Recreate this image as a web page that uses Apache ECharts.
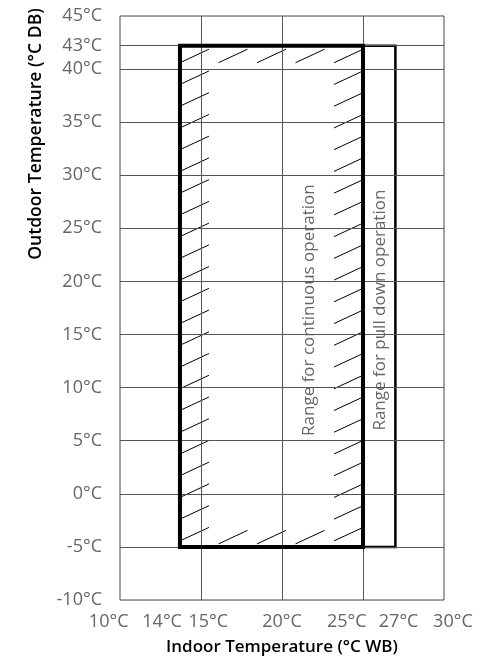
<!DOCTYPE html>
<html>
<head>
<meta charset="utf-8">
<script src="https://cdn.jsdelivr.net/npm/echarts@6/dist/echarts.min.js"></script>
<style>
html, body { margin: 0; padding: 0; background: #fff; }
#chart { width: 478px; height: 664px; }
</style>
</head>
<body>
<div id="chart"></div>
<script>
// tick labels
var xLabels = ['10°C', '14°C', '15°C', '20°C', '25°C', '27°C', '30°C'];
var xLabelAt = [9.3, 12.6, 15.45, 20, 24, 27.2, 30.55];
var yTickValues = [-10, -5, 0, 5, 10, 15, 20, 25, 30, 35, 40, 42.2, 45];
var yTickLabels = ['-10°C', '-5°C', '0°C', '5°C', '10°C', '15°C', '20°C', '25°C', '30°C', '35°C', '40°C', '43°C', '45°C'];

// grid lines
var xGridValues = [15, 20, 25];
var yGridValues = [-5, 0, 5, 10, 15, 20, 25, 30, 35, 40, 42.2];

// operating ranges [xmin, ymin, xmax, ymax]
var continuousRange = [13.7, -5, 25, 42.2];
var pullDownRange = [13.7, -5, 27, 42.2];
var rangeNames = ['Range for continuous operation', 'Range for pull down operation'];
var rangeNameX = [21.7, 26.05];
var rangeNameY = [17.3, 17.3];

var FONT = '"Open Sans", "Noto Sans", sans-serif';
var GREY = '#666';

var chart = echarts.init(document.getElementById('chart'));

var boxRender = function(width) {
    return function(params, api) {
        var p0 = api.coord([api.value(0), api.value(3)]);
        var p1 = api.coord([api.value(2), api.value(1)]);
        return {
            type: 'rect',
            shape: {x: p0[0], y: p0[1], width: p1[0] - p0[0], height: p1[1] - p0[1]},
            style: {fill: 'none', stroke: '#000', lineWidth: width}
        };
    };
};

// short hatch marks along the inside of the continuous box
var hatchRender = function(params, api) {
    var p0 = api.coord([api.value(0), api.value(3)]);
    var p1 = api.coord([api.value(2), api.value(1)]);
    var w = 29, h = 13.5;
    var kids = [];
    var n = 23;
    var ya = p0[1] + 17, yb = p1[1] - 6;
    for (var i = 0; i < n; i++) {
        var y = ya + (yb - ya) * i / (n - 1);
        kids.push({type: 'line', shape: {x1: p0[0], y1: y, x2: p0[0] + w, y2: y - h}});
        kids.push({type: 'line', shape: {x1: p1[0] - w, y1: y, x2: p1[0], y2: y - h}});
    }
    var step = (p1[0] - w - p0[0]) / 4;
    for (var k = 1; k < 4; k++) {
        var x = p0[0] + step * k;
        kids.push({type: 'line', shape: {x1: x, y1: p0[1] + 17, x2: x + w, y2: p0[1] + 17 - h}});
        kids.push({type: 'line', shape: {x1: x, y1: p1[1] - 3, x2: x + w, y2: p1[1] - 3 - h}});
    }
    kids.forEach(function(c) { c.style = {stroke: '#000', lineWidth: 1}; });
    return {type: 'group', children: kids};
};

var option = {
    animation: false,
    grid: {
        left: 120, right: 34, top: 16, bottom: 64,
        show: true, borderColor: '#444', borderWidth: 1
    },
    xAxis: {
        type: 'value', min: 10, max: 30,
        name: 'Indoor Temperature (°C WB)',
        nameLocation: 'middle',
        nameGap: 39,
        nameTextStyle: {color: '#000', fontSize: 17, fontWeight: 600, fontFamily: FONT},
        axisLine: {show: false}, axisTick: {show: false},
        axisLabel: {show: false}, splitLine: {show: false}
    },
    yAxis: {
        type: 'value', min: -10, max: 45,
        axisLine: {show: false}, axisTick: {show: false}, splitLine: {show: false},
        axisLabel: {
            customValues: yTickValues,
            margin: 18,
            color: GREY,
            fontSize: 18,
            fontFamily: FONT,
            formatter: function(v) {
                var best = 0;
                for (var i = 1; i < yTickValues.length; i++) {
                    if (Math.abs(yTickValues[i] - v) < Math.abs(yTickValues[best] - v)) best = i;
                }
                return yTickLabels[best];
            }
        }
    },
    graphic: [{
        type: 'text', x: 36, y: 134, rotation: Math.PI / 2,
        style: {
            text: 'Outdoor Temperature (°C DB)', fill: '#000',
            font: '600 17.6px ' + FONT, align: 'center', verticalAlign: 'middle'
        }
    }],
    series: [
        {
            // grid lines
            type: 'line', data: [], silent: true,
            markLine: {
                silent: true, symbol: 'none', animation: false,
                label: {show: false},
                lineStyle: {color: '#555', width: 1, type: 'solid'},
                data: xGridValues.map(function(v) { return {xAxis: v}; })
                    .concat(yGridValues.map(function(v) { return {yAxis: v}; }))
            }
        },
        {
            // range names
            type: 'custom', z: 3, silent: true,
            data: rangeNames.map(function(n, i) { return [rangeNameX[i], rangeNameY[i]]; }),
            renderItem: function(params, api) {
                var p = api.coord([api.value(0), api.value(1)]);
                return {
                    type: 'text', x: p[0], y: p[1], rotation: Math.PI / 2,
                    style: {
                        text: rangeNames[params.dataIndex], fill: GREY,
                        font: '17px ' + FONT, align: 'center', verticalAlign: 'middle',
                        backgroundColor: '#fff', padding: [6, 6]
                    }
                };
            }
        },
        {
            type: 'custom', z: 4, silent: true,
            data: [pullDownRange],
            encode: {x: [0, 2], y: [1, 3]},
            renderItem: boxRender(2.5)
        },
        {
            type: 'custom', z: 4, silent: true,
            data: [continuousRange],
            encode: {x: [0, 2], y: [1, 3]},
            renderItem: hatchRender
        },
        {
            type: 'custom', z: 5, silent: true,
            data: [continuousRange],
            encode: {x: [0, 2], y: [1, 3]},
            renderItem: boxRender(4)
        },
        {
            // x tick labels
            type: 'custom', z: 3, silent: true, clip: false,
            data: xLabelAt.map(function(v) { return [v, -10]; }),
            renderItem: function(params, api) {
                var p = api.coord([api.value(0), api.value(1)]);
                return {
                    type: 'text', x: p[0], y: p[1] + 22,
                    style: {
                        text: xLabels[params.dataIndex], fill: GREY,
                        font: '18px ' + FONT, align: 'center', verticalAlign: 'middle'
                    }
                };
            }
        }
    ]
};

chart.setOption(option);
</script>
</body>
</html>
